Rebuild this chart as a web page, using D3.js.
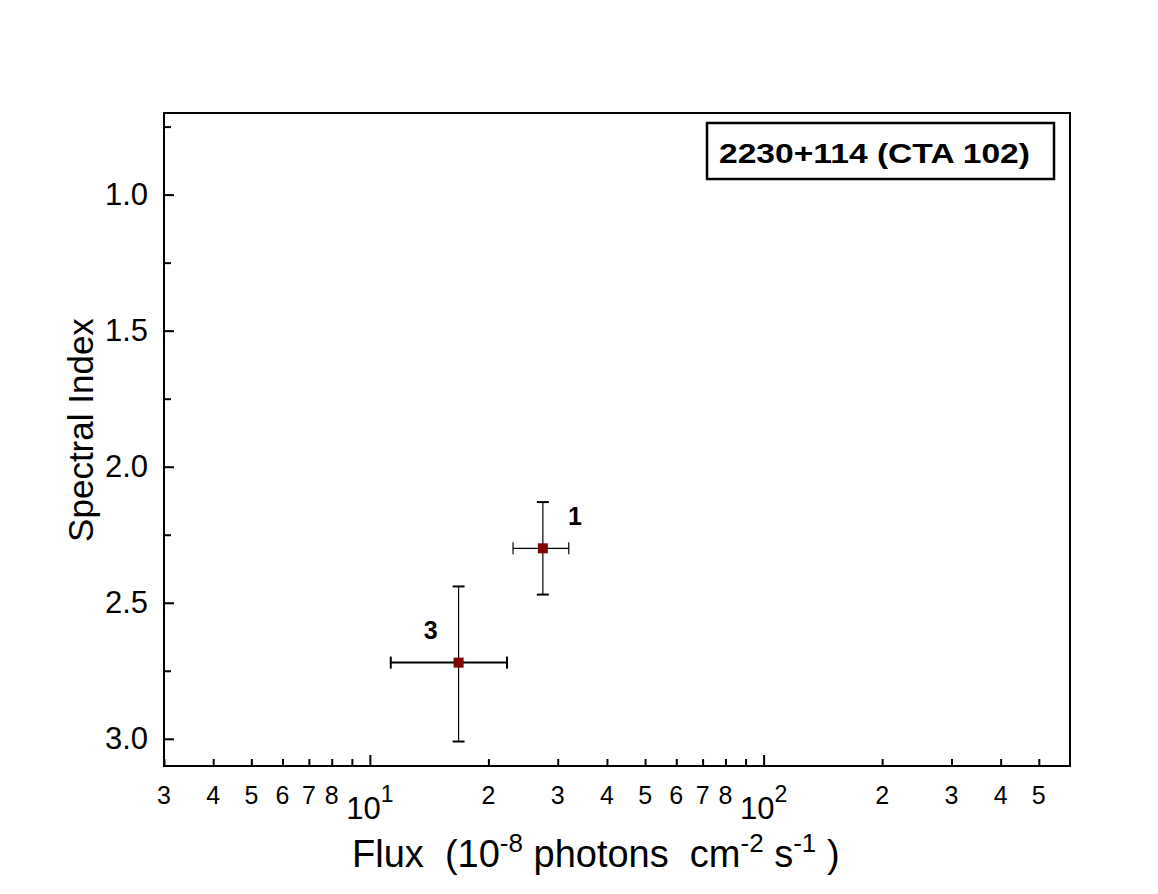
<!DOCTYPE html>
<html>
<head>
<meta charset="utf-8">
<script src="https://cdn.jsdelivr.net/npm/d3@7"></script>
<style>
  body { margin: 0; background: #fff; }
  text { font-family: "Liberation Sans", Arial, sans-serif; }
</style>
</head>
<body>
<div id="chart"></div>
<script>
// data
const labels = ["1", "3"];
const flux = [27.5, 16.8];
const fluxLo = [23.1, 11.3];
const fluxHi = [32.0, 22.3];
const index = [2.30, 2.72];
const indexLo = [2.13, 2.44];
const indexHi = [2.47, 3.01];
const title = "2230+114 (CTA 102)";

const xMinorTicks = [3, 4, 5, 6, 7, 8, 9, 20, 30, 40, 50, 60, 70, 80, 90, 200, 300, 400, 500];
const xMajorTicks = [10, 100];
const xTickLabels = [
  { v: 3, t: "3" }, { v: 4, t: "4" }, { v: 5, t: "5" }, { v: 6, t: "6" }, { v: 7, t: "7" }, { v: 8, t: "8" },
  { v: 20, t: "2" }, { v: 30, t: "3" }, { v: 40, t: "4" }, { v: 50, t: "5" }, { v: 60, t: "6" }, { v: 70, t: "7" }, { v: 80, t: "8" },
  { v: 200, t: "2" }, { v: 300, t: "3" }, { v: 400, t: "4" }, { v: 500, t: "5" }
];
const xPowLabels = [{ v: 10, e: "1" }, { v: 100, e: "2" }];
const yMajorTicks = [1.0, 1.5, 2.0, 2.5, 3.0];
const yMinorTicks = [0.75, 1.25, 1.75, 2.25, 2.75];

const W = 1158, H = 894;
const margin = { top: 113, right: 88, bottom: 128, left: 164 };
const width = W - margin.left - margin.right,
    height = H - margin.top - margin.bottom;

const svg = d3.select("#chart")
    .append("svg")
    .attr("width", W)
    .attr("height", H);

const g = svg.append("g")
    .attr("transform", `translate(${margin.left}, ${margin.top})`);

const x = d3.scaleLog().domain([3, 600]).range([0, width]);
const y = d3.scaleLinear().domain([0.7, 3.1]).range([0, height]);

// inward ticks
g.append("g")
    .attr("transform", `translate(0, ${height})`)
    .call(d3.axisBottom(x).tickValues(xMinorTicks).tickSize(-7).tickFormat(""))
    .call(a => a.select(".domain").remove())
    .selectAll("line").attr("stroke-width", 2);
g.append("g")
    .attr("transform", `translate(0, ${height})`)
    .call(d3.axisBottom(x).tickValues(xMajorTicks).tickSize(-11).tickFormat(""))
    .call(a => a.select(".domain").remove())
    .selectAll("line").attr("stroke-width", 2);

g.append("g")
    .call(d3.axisLeft(y).tickValues(yMinorTicks).tickSize(-7).tickFormat(""))
    .call(a => a.select(".domain").remove())
    .selectAll("line").attr("stroke-width", 2);
g.append("g")
    .call(d3.axisLeft(y).tickValues(yMajorTicks).tickSize(-10).tickPadding(16)
        .tickFormat(d3.format(".1f")))
    .call(a => a.select(".domain").remove())
    .call(a => a.selectAll("line").attr("stroke-width", 2))
    .call(a => a.selectAll("text")
        .attr("font-size", 31)
        .attr("fill", "#000")
        .attr("font-family", "Liberation Sans, Arial, sans-serif"));

// x tick labels
g.append("g").selectAll("text")
    .data(xTickLabels)
    .join("text")
    .attr("x", d => x(d.v))
    .attr("y", height + 38)
    .attr("text-anchor", "middle")
    .attr("font-size", 25)
    .text(d => d.t);

const pow = g.append("g").selectAll("text")
    .data(xPowLabels)
    .join("text")
    .attr("x", d => x(d.v))
    .attr("y", height + 53)
    .attr("text-anchor", "middle")
    .attr("font-size", 31);
pow.append("tspan").text("10");
pow.append("tspan").attr("font-size", 23).attr("dy", -17).text(d => d.e);

// frame
g.append("rect")
    .attr("width", width)
    .attr("height", height)
    .attr("fill", "none")
    .attr("stroke", "#000")
    .attr("stroke-width", 2);

// error bars
const pts = labels.map((l, i) => ({
  label: l, x: flux[i], xl: fluxLo[i], xh: fluxHi[i],
  y: index[i], yl: indexLo[i], yh: indexHi[i]
}));
const cap = 6;
const eb = g.append("g").attr("stroke", "#000");
pts.forEach((d, i) => {
  const hw = i === 1 ? 2 : 1.2;
  eb.append("line").attr("x1", x(d.xl)).attr("x2", x(d.xh)).attr("y1", y(d.y)).attr("y2", y(d.y)).attr("stroke-width", hw);
  eb.append("line").attr("x1", x(d.xl)).attr("x2", x(d.xl)).attr("y1", y(d.y) - cap).attr("y2", y(d.y) + cap).attr("stroke-width", hw);
  eb.append("line").attr("x1", x(d.xh)).attr("x2", x(d.xh)).attr("y1", y(d.y) - cap).attr("y2", y(d.y) + cap).attr("stroke-width", hw);
  eb.append("line").attr("x1", x(d.x)).attr("x2", x(d.x)).attr("y1", y(d.yl)).attr("y2", y(d.yh)).attr("stroke-width", 1.2);
  eb.append("line").attr("x1", x(d.x) - cap).attr("x2", x(d.x) + cap).attr("y1", y(d.yl)).attr("y2", y(d.yl)).attr("stroke-width", 2);
  eb.append("line").attr("x1", x(d.x) - cap).attr("x2", x(d.x) + cap).attr("y1", y(d.yh)).attr("y2", y(d.yh)).attr("stroke-width", 2);
});

g.selectAll("rect.pt")
    .data(pts)
    .join("rect")
    .attr("class", "pt")
    .attr("x", d => x(d.x) - 5)
    .attr("y", d => y(d.y) - 5)
    .attr("width", 10)
    .attr("height", 10)
    .attr("fill", "#800000");

// point labels
const labelOffset = { "1": [32, -23], "3": [-28, -24] };
g.selectAll("text.pl")
    .data(pts)
    .join("text")
    .attr("class", "pl")
    .attr("x", d => x(d.x) + labelOffset[d.label][0])
    .attr("y", d => y(d.y) + labelOffset[d.label][1])
    .attr("text-anchor", "middle")
    .attr("font-size", 25)
    .attr("font-weight", "bold")
    .text(d => d.label);

// title box
svg.append("rect")
    .attr("x", 707).attr("y", 123)
    .attr("width", 347).attr("height", 56)
    .attr("fill", "#fff")
    .attr("stroke", "#000")
    .attr("stroke-width", 2.5);
svg.append("text")
    .attr("x", 719).attr("y", 163)
    .attr("font-size", 28)
    .attr("font-weight", "bold")
    .attr("textLength", 311)
    .attr("lengthAdjust", "spacingAndGlyphs")
    .text(title);

// axis titles
const xt = svg.append("text")
    .attr("x", 352).attr("y", 867)
    .attr("font-size", 38)
    .style("white-space", "pre");
xt.append("tspan").text("Flux  (10");
xt.append("tspan").attr("font-size", 26).attr("dy", -15).text("-8");
xt.append("tspan").attr("dy", 15).text(" photons  cm");
xt.append("tspan").attr("font-size", 26).attr("dy", -15).text("-2");
xt.append("tspan").attr("dy", 15).text(" s");
xt.append("tspan").attr("font-size", 26).attr("dy", -15).text("-1");
xt.append("tspan").attr("dy", 15).text(" )");

svg.append("text")
    .attr("transform", "translate(93, 430) rotate(-90)")
    .attr("text-anchor", "middle")
    .attr("font-size", 35)
    .text("Spectral Index");
</script>
</body>
</html>
